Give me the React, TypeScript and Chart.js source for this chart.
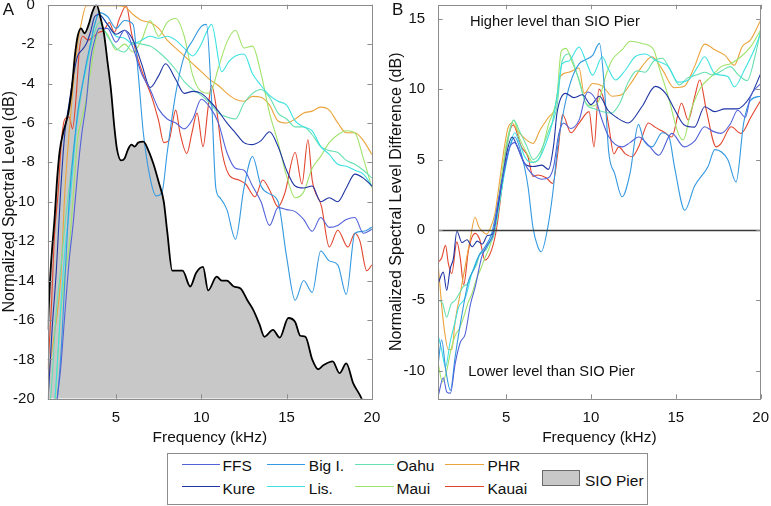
import React, { useEffect, useRef } from "react";
import { Chart, registerables } from "chart.js";

Chart.register(...registerables);

const FONT = '"Liberation Sans", Arial, Helvetica, sans-serif';

// ---------- tick labels ----------
const X_TICKS = [5, 10, 15, 20];
const A_Y_TICKS = [0, -2, -4, -6, -8, -10, -12, -14, -16, -18, -20];
const B_Y_TICKS = [-10, -5, 0, 5, 10, 15];

// ---------- Panel A: normalized spectral level (dB) ----------
const SIO_F = [1.0,1.1,1.2,1.4,1.55,1.7,1.9,2.2,2.4,2.6,2.75,2.95,3.15,3.4,3.6,3.85,4.1,4.3,4.5,4.7,4.9,5.05,5.3,5.5,5.7,5.9,6.1,6.3,6.6,6.9,7.2,7.5,7.8,8.0,8.3,8.9,9.35,9.7,10.1,10.4,10.9,11.2,11.5,11.9,12.3,12.7,13.05,13.4,13.7,14.2,14.6,15.1,15.5,15.8,16.1,16.5,16.85,17.15,17.7,18.1,18.5,18.9,19.4,19.7];
const SIO_DB = [-16.5,-14.5,-13,-10.8,-8.8,-7.4,-6.5,-5.5,-4.3,-2.5,-1.6,-1.2,-1.45,-1.0,-0.4,0,-0.7,-1.5,-2.9,-4.3,-6.2,-7.3,-7.9,-7.8,-7.35,-7.1,-7.2,-7.0,-6.95,-7.4,-8.1,-9.0,-10.0,-11.5,-13.5,-13.5,-14.3,-13.6,-13.3,-14.5,-13.8,-14.0,-14.0,-14.3,-14.4,-15.0,-15.5,-16.2,-16.85,-16.5,-16.9,-15.9,-16.1,-16.8,-16.85,-18.0,-18.5,-18.3,-18.1,-18.7,-18.2,-19.2,-20,-20.8];

const GRID_F = [1,1.25,1.5,1.75,2,2.25,2.5,2.75,3,3.25,3.5,3.75,4,4.5,5,5.5,6,6.5,7,7.5,8,8.5,9,9.5,10,10.5,11,11.5,12,12.5,13,13.5,14,14.5,15,15.5,16,16.5,17,17.5,18,18.5,19,19.5,20];

const A_FFS_F = GRID_F;
const A_FFS_DB = [-28,-24,-20.5,-18.5,-15.7,-13,-11,-8.5,-6.5,-5,-2.8,-1.8,-1.2,-1.2,-1.9,-1.3,-2.2,-3.5,-4.3,-5.3,-5.8,-6,-6.3,-5.8,-4.8,-5.2,-6,-7.5,-8.3,-8.4,-9.2,-10,-11.2,-10.3,-10.4,-10.5,-10.9,-11.5,-10.8,-11.3,-11.2,-10.9,-10.8,-11.6,-11.4];

const A_KURE_F = [1,1.25,1.5,1.75,2,2.25,2.5,2.75,3,3.25,3.5,3.75,4,4.5,5,5.5,6,6.5,7,7.5,7.9,8.5,9,9.5,10,10.5,11,11.5,12,12.5,13,13.5,14,14.5,15,15.5,16,16.5,17,17.5,18,18.5,19,19.5,20];
const A_KURE_DB = [-20.3,-16.5,-13.5,-9.5,-6.5,-5,-3.6,-2.6,-2.3,-2,-1.4,-0.6,-0.5,-1,-1.5,-1.3,-1.8,-3,-4.2,-3.6,-3,-3.8,-4.5,-4.4,-4.5,-4.9,-5.4,-6,-6.5,-7,-7.1,-6.9,-6.45,-7.2,-8.4,-9.2,-9.3,-9.2,-10,-9.8,-10,-9.3,-8.6,-8.8,-9.2];

const A_BIGI_F = [1,1.25,1.5,1.75,2,2.25,2.5,2.75,3,3.25,3.5,3.75,4,4.5,5,5.5,6,6.3,6.6,7,7.35,7.7,8,8.5,9,9.5,10,10.3,10.6,10.85,11.1,11.5,12,12.5,13,13.5,14,14.5,15,15.5,16,16.5,17,17.5,18,18.5,19,19.5,20];
const A_BIGI_DB = [-27,-23,-20.5,-18,-14,-10,-7.5,-5.5,-4.2,-3,-2,-1,-0.4,-0.6,-1.2,-0.8,-1,-3.5,-6.5,-8.8,-9.7,-9.5,-7.5,-4.5,-2.6,-1.8,-1.1,-1.0,-4.8,-9.3,-9.8,-10.4,-11.9,-9.3,-7.7,-9.2,-9.6,-10,-12.8,-15,-14,-14.6,-12.5,-13,-13.2,-14.7,-11.6,-11.5,-11.3];

const A_LIS_F = [1,1.25,1.5,1.75,2,2.25,2.5,2.75,3,3.25,3.5,3.75,4,4.5,5,5.5,6,6.5,7,7.5,8,8.5,9,9.5,10,10.3,10.6,11.2,11.6,12,12.5,13,13.5,14,14.5,15,15.5,16,16.5,17,17.5,18,18.5,19,19.5,20];
const A_LIS_DB = [-25,-22,-19,-15.5,-12.5,-10.5,-8,-5.5,-4.2,-3.2,-2,-1,-0.5,-1,-1.6,-1.7,-2,-1.8,-1.6,-1.7,-1.6,-1.8,-2.2,-2.6,-2,-1.4,-1,-3.4,-2.9,-2.6,-2.5,-3.5,-4.1,-4.6,-4.9,-5.1,-5.9,-6.2,-6.4,-7.2,-7.6,-8.1,-8.2,-8.4,-8.6,-9.2];

const A_OAHU_F = GRID_F;
const A_OAHU_DB = [-21.5,-19,-15.5,-13.5,-11.2,-9.3,-7.4,-5.8,-4.3,-3.2,-2.2,-1.4,-0.9,-1.6,-2.2,-2.4,-1.9,-2,-2.1,-2.4,-2.8,-3.3,-3.9,-4.3,-4.6,-5,-5.5,-5.7,-5.8,-5,-4.5,-4.3,-4.7,-5.5,-5.8,-6.2,-6.2,-6.6,-7.2,-7.4,-7.5,-7.9,-8.1,-8.4,-8.8];

const A_MAUI_F = GRID_F;
const A_MAUI_DB = [-26,-23,-19.2,-15.7,-13.7,-12.3,-9.6,-6.8,-5.8,-4.8,-3.4,-2.1,-1.2,-1.5,-2.3,-2,-2.4,-1.8,-0.8,-1.6,-0.9,-0.7,-1.6,-3.6,-4.4,-4.5,-3.2,-1.9,-1.3,-2.2,-2.1,-3.5,-5.5,-7,-8.7,-9.8,-9.5,-8.3,-7.7,-7,-6.6,-6.4,-6.5,-7.8,-9.3];

const A_PHR_F = [1,1.25,1.5,1.75,2,2.25,2.5,2.75,3,3.25,3.5,4,4.5,5,5.5,6,6.5,7,7.5,8,8.5,9,9.5,10,10.5,11,11.5,12,12.5,13,13.5,14,14.5,15,15.5,16,16.5,17,17.5,18,18.5,19,19.5,20];
const A_PHR_DB = [-19,-17.5,-16,-14,-9.5,-6.5,-4,-2,-0.8,-0.05,-0.05,-0.05,-0.05,-0.05,-0.1,-0.5,-0.8,-0.9,-1.2,-1.8,-2.2,-2.6,-3,-3.4,-3.8,-4.1,-4.5,-4.8,-4.9,-4.65,-4.7,-5.1,-5.9,-6,-5.8,-5.5,-5.4,-5.2,-5.35,-6,-6.5,-6.5,-6.9,-7.6];

const A_KAUAI_F = [1,1.2,1.4,1.6,1.8,2,2.25,2.45,2.65,2.85,3.05,3.35,3.7,4,4.3,4.6,4.9,5.2,5.6,5.9,6.3,6.7,7.1,7.5,7.8,8.1,8.5,8.75,9.15,9.45,9.75,10.1,10.4,10.6,10.9,11.2,11.6,12.2,12.6,13.15,13.6,14,14.5,14.9,15.5,15.9,16.25,16.5,17.05,17.5,18,18.6,19,19.3,19.7,20];
const A_KAUAI_DB = [-18.5,-15.5,-11.6,-9.6,-6.9,-5.8,-5.7,-6.3,-4.8,-2.3,-1.6,-1.8,-1.6,-1.4,-1.3,-0.9,-1.4,-0.7,-0.05,-1.4,-2.8,-3.8,-4.7,-5.9,-7,-6.9,-5.35,-6.5,-7.55,-6.5,-5.5,-7.2,-5.2,-4.1,-5.35,-7.4,-8.6,-8.9,-9.1,-9.75,-8.9,-9.4,-10.25,-9.55,-7.5,-9.1,-6.85,-8.9,-10.25,-12.3,-11.45,-12.3,-11.6,-12,-13.5,-13.2];

// ---------- Panel B: level difference vs SIO Pier (dB) ----------
const B_FFS_F = [1,1.3,1.5,1.72,2,2.3,2.59,2.9,3.18,3.57,3.95,4.25,4.54,4.93,5.22,5.51,5.9,6.3,6.7,7.1,7.5,7.8,8.1,8.4,8.8,9.3,9.8,10.3,10.6,11.06,11.84,12.3,12.81,13.4,14,14.76,15.5,16.1,16.7,17.2,17.67,18.2,18.65,19.1,19.4,20];
const B_FFS_DB = [-11.8,-10.5,-11.5,-11.6,-9.5,-8,-7.4,-5.3,-4.05,-1.9,-0.97,-0.27,2.1,4.5,5.9,6.2,5.2,4.3,3.8,3.6,3.7,4.5,6.8,7.6,7.2,7.8,9.8,9.2,8,6.6,5.9,6.2,6.6,6,5.3,6.86,5.9,6.3,7.33,7,6.86,7.5,8.5,8,9.46,10.4];

const B_KURE_F = [1,1.3,1.5,1.7,1.9,2.1,2.4,2.7,3,3.3,3.6,3.9,4.2,4.5,4.8,5.1,5.35,5.7,6.1,6.6,7.1,7.5,7.8,8,8.5,9,9.5,10,10.5,11,11.5,12.2,13,13.8,14.4,14.95,15.5,16.1,16.7,17.3,17.9,18.6,19.4,20];
const B_KURE_DB = [-3.8,-3,-4.3,-2.8,-2,-0.1,-0.9,-0.7,-1.2,-0.8,-1,-0.4,-0.3,1.5,3.8,5.8,6.6,5.8,4.7,4.5,4.6,4.3,6,8.3,9.7,9.4,9.6,8.9,9.5,8.5,8,7.6,8.75,10.2,9.7,8.5,7.45,7.3,8.75,8.4,8.6,8.6,9.5,11.1];

const B_BIGI_F = [1,1.2,1.45,1.72,2,2.4,2.79,3.1,3.37,3.76,4.15,4.44,4.83,5.22,5.51,5.9,6.29,6.58,6.87,7.07,7.46,7.75,8.04,8.4,8.8,9.3,9.7,10.1,10.5,10.8,11.05,11.4,11.84,12.3,12.8,13.1,13.6,14.2,14.6,14.95,15.53,16.1,16.9,17.3,18.06,18.55,19,19.4,20];
const B_BIGI_DB = [-9.5,-7.8,-10,-11.4,-9,-6,-3.6,-2.8,-1.9,-1.2,-0.25,1.4,3.8,5.9,6.6,5.4,3.1,0.2,-1.2,-1.55,0.2,2.6,5.9,8.5,10.5,11.8,12.1,12.4,13.25,10,5.5,4,2.35,4,7.5,6.4,5.9,6.9,6.6,4.3,1.4,3.1,4.5,5.7,5,3.4,7.6,9.2,9.5];

const B_LIS_F = [1,1.2,1.43,1.7,2,2.2,2.6,2.98,3.37,3.76,4.15,4.54,4.93,5.22,5.51,5.8,6.1,6.48,6.9,7.3,7.7,8,8.3,8.7,9.3,9.7,10.1,10.67,11,11.45,12.03,12.6,13.2,13.78,14.56,15.14,15.73,16.3,16.7,17.3,18.06,18.45,19.04,19.62,20];
const B_LIS_DB = [-7.5,-8.5,-9.75,-8,-6.5,-5.5,-4.8,-3.1,-1.9,-1.4,-0.5,1.4,4.2,5.9,6.9,6.15,5.2,4.8,5,6,7.5,9.5,11.8,12,13,12,11,12.3,11.5,10.65,11.36,12.3,12.5,12.07,11.6,10.5,10.65,11.6,12.3,11.1,10.9,10.17,11.36,12.8,14];

const B_OAHU_F = [1,1.25,1.5,1.75,2,2.25,2.5,2.75,3,3.25,3.5,3.75,4,4.25,4.5,4.75,5,5.25,5.45,5.8,6.2,6.6,7,7.5,8,8.3,8.7,9.2,9.7,10.2,10.7,11.2,11.7,12.2,12.7,13.2,13.7,14.2,14.7,15.2,15.7,16.2,16.7,17.2,17.7,18.2,18.7,19.2,19.7,20];
const B_OAHU_DB = [-5,-5.2,-6.2,-5.3,-5,-4.5,-4,-3.8,-3,-2.5,-1.6,-1.5,-1,-0.5,1,3.5,5.5,7.2,7.8,7,6,5,5.5,7,8.8,12,12.5,11,9,8.6,8.4,8.3,9,10.5,11.3,11.2,12,12.2,11.3,10.3,10.8,11,11.2,11,11.3,11.6,11,10.6,12.5,14.2];

const B_MAUI_F = [1,1.25,1.5,1.75,2,2.25,2.5,2.75,3,3.25,3.5,3.75,4,4.25,4.5,4.75,5,5.25,5.45,5.8,6.2,6.6,7,7.5,8,8.24,8.53,8.92,9.31,9.7,10.1,10.47,10.86,11.25,11.84,12.32,13,13.7,14,14.56,15.14,15.44,15.9,16.5,17.1,17.67,18.26,18.84,19.4,20];
const B_MAUI_DB = [-9.5,-10.8,-10,-8.5,-7.5,-7,-6.2,-5.2,-4.5,-3.5,-2.8,-2,-1.3,-0.3,1.5,4,6,7.3,7.8,6.5,5.5,4.8,5.2,7.5,9.5,12.66,12.9,11.83,10.65,9,8.8,9.2,10.9,12.07,12.8,13.4,13.25,12.8,11.6,9.46,6.86,6.4,8.5,10.17,10.9,11.6,11.83,12.3,13,14.2];

const B_PHR_F = [1,1.3,1.6,1.8,2,2.3,2.6,2.88,3.17,3.4,3.6,3.85,4.1,4.35,4.6,4.85,5.1,5.35,5.7,6.2,6.6,7,7.5,7.9,8.2,8.7,9.3,9.6,10.1,10.7,11.25,11.8,12.4,13,13.6,14.2,14.9,15.5,16.1,16.7,17.3,17.9,18.45,18.9,19.4,20];
const B_PHR_DB = [-2.5,-6.5,-8.5,-8.5,-6.5,-4.5,-2.5,-0.7,0.9,0.2,-0.1,-0.3,0.2,1.2,3.3,5.5,7.2,7.6,7,6.4,6.15,7.1,8,8.7,10.9,11.2,11.5,9.7,10.4,10.2,9.5,9.6,10.5,11.6,12.3,11.4,10.1,10.2,11.6,13.2,12.8,12.4,11.7,13,13.5,14.9];

const B_KAUAI_F = [1,1.2,1.43,1.6,1.8,2.1,2.3,2.5,2.79,3.18,3.45,3.76,4.15,4.44,4.73,5,5.42,5.9,6.29,6.58,6.87,7.36,7.75,8.05,8.33,8.82,9.31,9.89,10.18,10.47,10.77,11.06,11.35,11.64,12.03,12.42,12.81,13.39,13.78,14.37,14.76,15.34,15.73,16.12,16.41,16.8,17.38,17.67,18.26,18.84,19.42,20];
const B_KAUAI_DB = [-2.3,-2,-1.1,-2.4,-3.1,-0.85,-2,-3.9,-1.4,-0.25,-0.7,-2.15,-1.4,0.1,2.8,5.7,7.45,5.9,5.2,3.8,3.9,3.7,3.3,5.5,8.2,6.9,7.6,8.4,5.9,10,9.2,7.3,5.4,5.9,5.4,5.2,5.9,7.6,7.3,6.9,6.6,9,7.8,9.5,10.65,8.5,5.9,6.15,7.33,6.86,8,9.2];

// ---------- series names & colours ----------
const NAMES = ["FFS", "Kure", "Big I.", "Lis.", "Oahu", "Maui", "PHR", "Kauai"];
const COLORS = ["#5262d8", "#1f35a5", "#3399e0", "#3ee2e2", "#66e0b0", "#a0e36a", "#eba43c", "#e2452e"];
const A_SERIES: [number[], number[]][] = [
  [A_FFS_F, A_FFS_DB], [A_KURE_F, A_KURE_DB], [A_BIGI_F, A_BIGI_DB], [A_LIS_F, A_LIS_DB],
  [A_OAHU_F, A_OAHU_DB], [A_MAUI_F, A_MAUI_DB], [A_PHR_F, A_PHR_DB], [A_KAUAI_F, A_KAUAI_DB],
];
const B_SERIES: [number[], number[]][] = [
  [B_FFS_F, B_FFS_DB], [B_KURE_F, B_KURE_DB], [B_BIGI_F, B_BIGI_DB], [B_LIS_F, B_LIS_DB],
  [B_OAHU_F, B_OAHU_DB], [B_MAUI_F, B_MAUI_DB], [B_PHR_F, B_PHR_DB], [B_KAUAI_F, B_KAUAI_DB],
];

const pts = (f: number[], v: number[]) => f.map((x, i) => ({ x, y: v[i] }));

function framePlugin(yTicks: number[], zeroLine: boolean) {
  return {
    id: "frame",
    afterDatasetsDraw(chart: any) {
      const { ctx, chartArea, scales } = chart;
      const { left, right, top, bottom } = chartArea;
      ctx.save();
      if (zeroLine) {
        const y = Math.round(scales.y.getPixelForValue(0)) + 0.5;
        ctx.strokeStyle = "#3a3a3a";
        ctx.lineWidth = 1.3;
        ctx.beginPath();
        ctx.moveTo(left, y);
        ctx.lineTo(right, y);
        ctx.stroke();
      }
      ctx.strokeStyle = "#8c8c8c";
      ctx.lineWidth = 1;
      ctx.strokeRect(Math.round(left) + 0.5, Math.round(top) + 0.5, Math.round(right - left), Math.round(bottom - top));
      const L = 4.5;
      ctx.beginPath();
      for (const v of X_TICKS) {
        const x = Math.round(scales.x.getPixelForValue(v)) + 0.5;
        ctx.moveTo(x, bottom); ctx.lineTo(x, bottom - L);
        ctx.moveTo(x, top); ctx.lineTo(x, top + L);
      }
      for (const v of yTicks) {
        const y = Math.round(scales.y.getPixelForValue(v)) + 0.5;
        ctx.moveTo(left, y); ctx.lineTo(left + L, y);
        ctx.moveTo(right, y); ctx.lineTo(right - L, y);
      }
      ctx.stroke();
      ctx.restore();
    },
  };
}

function makeConfig(panel: "A" | "B"): any {
  const isA = panel === "A";
  const datasets: any[] = [];
  if (isA) {
    datasets.push({
      data: pts(SIO_F, SIO_DB), borderColor: "rgba(0,0,0,0)", borderWidth: 0,
      backgroundColor: "#c8c8c8", fill: "start", pointRadius: 0, order: 30,
      cubicInterpolationMode: "monotone",
    });
  }
  const src = isA ? A_SERIES : B_SERIES;
  src.forEach(([f, v], i) => {
    datasets.push({
      label: NAMES[i], data: pts(f, v), borderColor: COLORS[i], borderWidth: 1.1,
      fill: false, pointRadius: 0, order: 10 + i, cubicInterpolationMode: "monotone",
    });
  });
  if (isA) {
    datasets.push({
      label: "SIO Pier", data: pts(SIO_F, SIO_DB), borderColor: "#000", borderWidth: 1.8,
      fill: false, pointRadius: 0, order: 0, cubicInterpolationMode: "monotone",
    });
  }
  const yTicks = isA ? A_Y_TICKS : B_Y_TICKS;
  return {
    type: "line",
    data: { datasets },
    plugins: [framePlugin(yTicks, !isA)],
    options: {
      responsive: false,
      animation: false,
      events: [],
      layout: { padding: { left: 0, right: isA ? 28.1 : 8.5, top: 14.7, bottom: 11.2 } },
      plugins: { legend: { display: false }, tooltip: { enabled: false } },
      scales: {
        x: {
          type: "linear", min: 1, max: 20,
          afterBuildTicks: (s: any) => { s.ticks = X_TICKS.map((value) => ({ value })); },
          afterFit: (s: any) => { s.height = 50; },
          grid: { display: false }, border: { display: false },
          ticks: { font: { family: FONT, size: 15 }, color: "#111", padding: 2, maxRotation: 0, autoSkip: false },
          title: { display: true, text: "Frequency (kHz)", font: { family: FONT, size: 15.5 }, color: "#111", padding: { top: 0, bottom: 1.4 } },
        },
        y: {
          type: "linear", min: isA ? -20 : -12, max: isA ? 0 : 16,
          afterBuildTicks: (s: any) => { s.ticks = yTicks.map((value) => ({ value })); },
          afterFit: (s: any) => { s.width = isA ? 47.8 : 51.2; },
          grid: { display: false }, border: { display: false },
          ticks: { font: { family: FONT, size: 15 }, color: "#111", padding: 5, autoSkip: false },
          title: {
            display: true,
            text: isA ? "Normalized Spectral Level (dB)" : "Normalized Spectral Level Difference (dB)",
            font: { family: FONT, size: 16 }, color: "#111", padding: { top: 0, bottom: 0 },
          },
        },
      },
    },
  };
}

function Panel({ panel, left, width }: { panel: "A" | "B"; left: number; width: number }) {
  const ref = useRef<HTMLCanvasElement | null>(null);
  useEffect(() => {
    if (!ref.current) return;
    const chart = new Chart(ref.current, makeConfig(panel));
    return () => chart.destroy();
  }, [panel]);
  return (
    <canvas
      ref={ref}
      width={width}
      height={470}
      style={{ position: "absolute", left, top: -10, width, height: 470 }}
    />
  );
}

function Txt({ x, base, size, children }: { x: number; base: number; size: number; children: React.ReactNode }) {
  return (
    <div
      style={{
        position: "absolute", left: x, top: base - 0.8465 * size, fontFamily: FONT,
        fontSize: size, lineHeight: `${size}px`, color: "#111", whiteSpace: "nowrap",
      }}
    >
      {children}
    </div>
  );
}

const LEGEND_COLS = [
  { lineX: 181.7, textX: 222.5 },
  { lineX: 266.7, textX: 308.8 },
  { lineX: 355, textX: 396.5 },
  { lineX: 445, textX: 487.5 },
];

export default function App() {
  return (
    <div style={{ position: "fixed", left: 0, top: 0, width: 771, height: 506, background: "#fff", overflow: "hidden" }}>
      <Panel panel="A" left={0} width={400} />
      <Panel panel="B" left={387} width={384} />
      <Txt x={2.7} base={15} size={17}>A</Txt>
      <Txt x={392} base={15} size={17}>B</Txt>
      <Txt x={470} base={26} size={14.7}>Higher level than SIO Pier</Txt>
      <Txt x={468.3} base={376.7} size={14.7}>Lower level than SIO Pier</Txt>
      <div
        style={{
          position: "absolute", left: 166.5, top: 453, width: 481, height: 52,
          border: "1px solid #8c8c8c", boxSizing: "border-box", background: "#fff",
        }}
      />
      {NAMES.map((name, i) => {
        const col = LEGEND_COLS[Math.floor(i / 2)];
        const row = i % 2;
        const ly = row === 0 ? 464 : 486;
        const base = row === 0 ? 470.7 : 494;
        return (
          <React.Fragment key={name}>
            <div style={{ position: "absolute", left: col.lineX, top: ly, width: 38.5, height: 1, background: COLORS[i] }} />
            <Txt x={col.textX} base={base} size={15.5}>{name}</Txt>
          </React.Fragment>
        );
      })}
      <div
        style={{
          position: "absolute", left: 541.7, top: 470, width: 38.5, height: 15.7,
          background: "#c8c8c8", border: "1px solid #6a6a6a", boxSizing: "border-box",
        }}
      />
      <Txt x={585} base={485.7} size={15.5}>SIO Pier</Txt>
    </div>
  );
}
